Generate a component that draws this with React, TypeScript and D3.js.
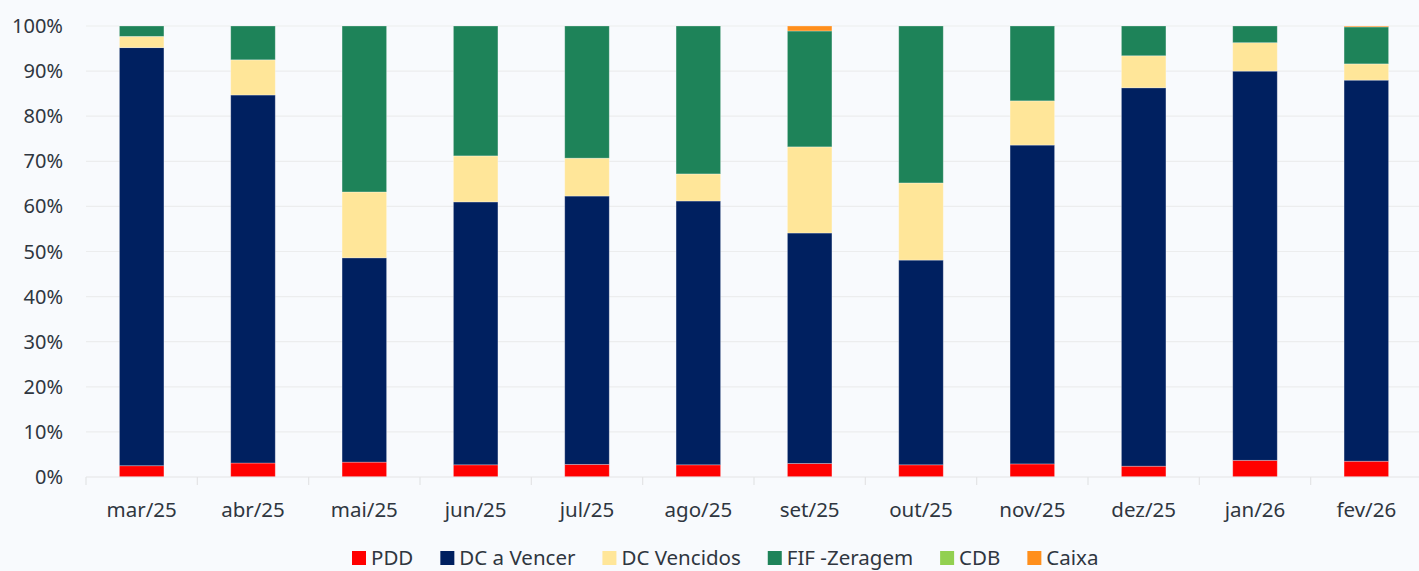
import { useEffect, useRef } from "react"
import * as d3 from "d3"

const months = ["mar/25", "abr/25", "mai/25", "jun/25", "jul/25", "ago/25", "set/25", "out/25", "nov/25", "dez/25", "jan/26", "fev/26"]

const pdd = [2.5, 3.1, 3.3, 2.7, 2.8, 2.7, 3.0, 2.7, 2.9, 2.4, 3.7, 3.5]
const dcAVencer = [92.7, 81.6, 45.3, 58.3, 59.5, 58.5, 51.1, 45.4, 70.7, 83.9, 86.3, 84.5]
const dcVencidos = [2.5, 7.8, 14.6, 10.2, 8.4, 6.0, 19.1, 17.1, 9.8, 7.1, 6.3, 3.6]
const fifZeragem = [2.3, 7.5, 36.8, 28.8, 29.3, 32.8, 25.7, 34.8, 16.6, 6.6, 3.7, 8.2]
const cdb = [0, 0, 0, 0, 0, 0, 0, 0, 0, 0, 0, 0]
const caixa = [0, 0, 0, 0, 0, 0, 1.1, 0, 0, 0, 0, 0.2]

const seriesNames = ["PDD", "DC a Vencer", "DC Vencidos", "FIF -Zeragem", "CDB", "Caixa"]
const seriesColors = ["#FF0000", "#002060", "#FFE699", "#1E8359", "#92D050", "#FF8F1C"]
const yTicks = [0, 10, 20, 30, 40, 50, 60, 70, 80, 90, 100]

const W = 1419
const H = 571

const App = () => {
  const svgRef = useRef<SVGSVGElement>(null)

  useEffect(() => {
    const svg = d3.select(svgRef.current)
    svg.selectAll("*").remove()

    const margin = { top: 26, right: -3, bottom: 94, left: 86 }
    const innerW = W - margin.left - margin.right
    const innerH = H - margin.top - margin.bottom
    const font = "'Noto Sans', sans-serif"
    const textColor = "#2f3640"

    svg.append("rect").attr("width", W).attr("height", H).attr("fill", "#F8FAFD")

    const g = svg.append("g").attr("transform", `translate(${margin.left},${margin.top})`)

    const x = d3.scaleBand().domain(months).range([0, innerW]).paddingInner(0.6).paddingOuter(0.3)
    const y = d3.scaleLinear().domain([0, 100]).range([innerH, 0])

    // gridlines
    g.append("g")
      .selectAll("line")
      .data(yTicks.filter((t) => t > 0))
      .join("line")
      .attr("x1", 0)
      .attr("x2", innerW)
      .attr("y1", (d) => y(d))
      .attr("y2", (d) => y(d))
      .attr("stroke", "#ECEDEE")
      .attr("stroke-width", 1.2)

    // y labels
    g.append("g")
      .selectAll("text")
      .data(yTicks)
      .join("text")
      .attr("x", -23)
      .attr("y", (d) => y(d))
      .attr("dy", "0.35em")
      .attr("text-anchor", "end")
      .style("font-family", font)
      .style("font-size", "20px")
      .style("fill", textColor)
      .text((d) => `${d}%`)

    // stacked data
    const rows = months.map((m, i) => ({
      month: m,
      PDD: pdd[i],
      "DC a Vencer": dcAVencer[i],
      "DC Vencidos": dcVencidos[i],
      "FIF -Zeragem": fifZeragem[i],
      CDB: cdb[i],
      Caixa: caixa[i],
    }))
    const stack = d3.stack<any>().keys(seriesNames)
    const layers = stack(rows)

    g.append("g")
      .selectAll("g")
      .data(layers)
      .join("g")
      .attr("fill", (_, i) => seriesColors[i])
      .selectAll("rect")
      .data((d) => d.filter((s) => s[1] - s[0] > 0))
      .join("rect")
      .attr("x", (d) => x(d.data.month)!)
      .attr("width", x.bandwidth())
      .attr("y", (d) => y(d[1]))
      .attr("height", (d) => y(d[0]) - y(d[1]))
      .attr("stroke", "#ffffff")
      .attr("stroke-opacity", 0.35)
      .attr("stroke-width", 0.8)

    // x axis
    const axis = g.append("g").attr("transform", `translate(0,${innerH})`)
    axis
      .append("line")
      .attr("x1", 0)
      .attr("x2", innerW)
      .attr("stroke", "#E3E4E6")
      .attr("stroke-width", 1.2)
    const step = x.step()
    axis
      .selectAll("line.tick")
      .data(d3.range(months.length + 1))
      .join("line")
      .attr("class", "tick")
      .attr("x1", (i) => i * step)
      .attr("x2", (i) => i * step)
      .attr("y1", 0)
      .attr("y2", 8)
      .attr("stroke", "#E3E4E6")
      .attr("stroke-width", 1.2)
    axis
      .selectAll("text")
      .data(months)
      .join("text")
      .attr("x", (d) => x(d)! + x.bandwidth() / 2)
      .attr("y", 40)
      .attr("text-anchor", "middle")
      .style("font-family", font)
      .style("font-size", "20.5px")
      .style("fill", textColor)
      .text((d) => d)

    // legend
    const legend = svg.append("g").attr("transform", `translate(352,${H - 6})`)
    let offset = 0
    seriesNames.forEach((name, i) => {
      const item = legend.append("g").attr("transform", `translate(${offset},0)`)
      item
        .append("rect")
        .attr("x", 0)
        .attr("y", -14)
        .attr("width", 14)
        .attr("height", 14)
        .attr("fill", seriesColors[i])
      const t = item
        .append("text")
        .attr("x", 19)
        .attr("y", 0)
        .style("font-family", font)
        .style("font-size", "20.5px")
        .style("fill", textColor)
        .text(name)
      const len = (t.node() as SVGTextElement).getComputedTextLength()
      offset += 19 + len + 27
    })
  }, [])

  return (
    <svg
      ref={svgRef}
      width={W}
      height={H}
      style={{ position: "absolute", left: 0, top: 0, display: "block" }}
    ></svg>
  )
}

export default App
